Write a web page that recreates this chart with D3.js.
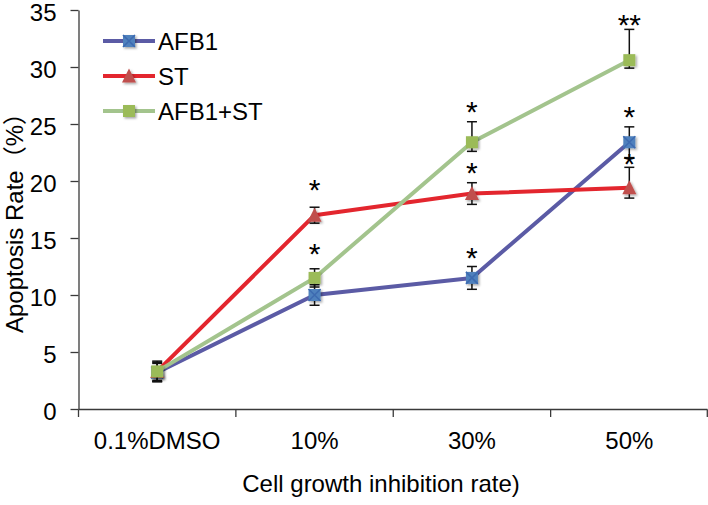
<!DOCTYPE html>
<html>
<head>
<meta charset="utf-8">
<script src="https://cdn.jsdelivr.net/npm/d3@7"></script>
<style>
  html, body { margin: 0; padding: 0; background: #fff; }
  svg { display: block; font-family: "Liberation Sans", Arial, "Noto Sans CJK SC", sans-serif; }
</style>
</head>
<body>
<script>
// ---- data ----
const categories = ["0.1%DMSO", "10%", "30%", "50%"];
const seriesNames = ["AFB1", "ST", "AFB1+ST"];
const afb1Values = [3.2, 10.0, 11.5, 23.4];
const afb1ErrUp = [0.8, 0.9, 1.0, 1.35];
const afb1ErrDown = [0.8, 0.9, 1.0, 1.35];
const stValues = [3.3, 17.0, 18.9, 19.4];
const stErrUp = [0.8, 0.7, 0.95, 1.8];
const stErrDown = [0.8, 0.7, 0.95, 0.9];
const comboValues = [3.3, 11.5, 23.4, 30.6];
const comboErrUp = [0.9, 0.8, 1.8, 2.7];
const comboErrDown = [0.9, 0.8, 0.8, 0.7];
const yTicks = [0, 5, 10, 15, 20, 25, 30, 35];
// significance marks: series index, category index, label, y position (data units)
const starSeries = [1, 2, 2, 1, 0, 2, 0, 1];
const starCats = [1, 1, 2, 2, 2, 3, 3, 3];
const starLabels = ["*", "*", "*", "*", "*", "**", "*", "*"];
const starAt = [19.8, 14.2, 26.7, 21.3, 13.9, 34.3, 26.2, 22.1];
const xTitle = "Cell growth inhibition rate)";
const yTitle = "Apoptosis Rate（%）";

// ---- styles ----
const W = 708, H = 505;
const lineColors = ["#5B5BA5", "#E3262E", "#A3C48D"];
const markerFills = ["#4F81BD", "#C0504D", "#9BBB59"];

const series = [
  { name: seriesNames[0], values: afb1Values, up: afb1ErrUp, down: afb1ErrDown, shape: "xsquare" },
  { name: seriesNames[1], values: stValues, up: stErrUp, down: stErrDown, shape: "triangle" },
  { name: seriesNames[2], values: comboValues, up: comboErrUp, down: comboErrDown, shape: "square" }
];

const svg = d3.select("body").append("svg").attr("width", W).attr("height", H);

const defs = svg.append("defs");
const f = defs.append("filter").attr("id", "sh").attr("x", "-50%").attr("y", "-50%").attr("width", "200%").attr("height", "200%");
f.append("feDropShadow").attr("dx", 1.5).attr("dy", 1.5).attr("stdDeviation", 1.2)
  .attr("flood-color", "#000").attr("flood-opacity", 0.35);

const x = d3.scaleBand().domain(categories).range([78.5, 708]).paddingInner(0).paddingOuter(0);
const cx = c => x(c) + x.bandwidth() / 2;
const y = d3.scaleLinear().domain([0, 35]).range([409, 10]);

// Y axis
const yAxis = svg.append("g").attr("transform", "translate(78.5,0)")
  .call(d3.axisLeft(y).tickValues(yTicks).tickSize(8).tickPadding(14).tickSizeOuter(0));
yAxis.select(".domain").attr("stroke", "#3a3a3a").attr("stroke-width", 1.3);
yAxis.selectAll(".tick line").attr("stroke", "#3a3a3a").attr("stroke-width", 1.3);
yAxis.selectAll(".tick text").attr("font-size", 24).attr("fill", "#000")
  .attr("font-family", "Liberation Sans, Arial, sans-serif").attr("dy", "0.43em");

// X axis line + boundary ticks
const xg = svg.append("g");
xg.append("line").attr("x1", 78.5).attr("x2", 707.5).attr("y1", 409.5).attr("y2", 409.5)
  .attr("stroke", "#3a3a3a").attr("stroke-width", 1.3);
const bounds = categories.map(c => x(c)).concat([x(categories[categories.length - 1]) + x.bandwidth()]);
xg.selectAll("line.t").data(bounds).enter().append("line").attr("class", "t")
  .attr("x1", d => Math.min(d, 707.3)).attr("x2", d => Math.min(d, 707.3))
  .attr("y1", 409.5).attr("y2", 417).attr("stroke", "#3a3a3a").attr("stroke-width", 1.3);
xg.selectAll("text").data(categories).enter().append("text")
  .attr("x", d => cx(d)).attr("y", 449).attr("text-anchor", "middle")
  .attr("font-size", 24).attr("fill", "#000").text(d => d);

// Axis titles
svg.append("text").attr("x", 381).attr("y", 492).attr("text-anchor", "middle")
  .attr("font-size", 24).attr("fill", "#000").text(xTitle);
svg.append("text").attr("transform", "translate(23,217) rotate(-90)").attr("text-anchor", "middle")
  .attr("font-size", 24).attr("fill", "#000").text(yTitle);

// marker drawer
function drawMarker(g, shape, px, py, i) {
  const s = 12;
  if (shape === "square") {
    g.append("rect").attr("x", px - s / 2).attr("y", py - s / 2).attr("width", s).attr("height", s)
      .attr("fill", markerFills[i]).attr("filter", "url(#sh)");
  } else if (shape === "xsquare") {
    const m = g.append("g").attr("filter", "url(#sh)");
    m.append("rect").attr("x", px - s / 2).attr("y", py - s / 2).attr("width", s).attr("height", s)
      .attr("fill", markerFills[i]);
    m.append("path").attr("d", `M${px - s / 2},${py - s / 2}L${px + s / 2},${py + s / 2}M${px + s / 2},${py - s / 2}L${px - s / 2},${py + s / 2}`)
      .attr("stroke", "#3E6BB0").attr("stroke-width", 1.6);
  } else {
    const h = 13;
    g.append("path").attr("d", `M${px},${py - h / 2 - 1}L${px + 7},${py + h / 2}L${px - 7},${py + h / 2}Z`)
      .attr("fill", markerFills[i]).attr("filter", "url(#sh)");
  }
}

const line = d3.line().x((d, j) => cx(categories[j])).y(d => y(d));

series.forEach((s, i) => {
  const g = svg.append("g");
  g.append("path").datum(s.values).attr("d", line).attr("fill", "none")
    .attr("stroke", lineColors[i]).attr("stroke-width", 4).attr("stroke-linejoin", "round");
  // error bars
  s.values.forEach((v, j) => {
    const px = cx(categories[j]);
    const yt = y(v + s.up[j]), yb = y(v - s.down[j]);
    const eb = g.append("g").attr("stroke", "#111").attr("stroke-width", 1.5);
    eb.append("line").attr("x1", px).attr("x2", px).attr("y1", yt).attr("y2", yb);
    eb.append("line").attr("x1", px - 5).attr("x2", px + 5).attr("y1", yt).attr("y2", yt);
    eb.append("line").attr("x1", px - 5).attr("x2", px + 5).attr("y1", yb).attr("y2", yb);
  });
  s.values.forEach((v, j) => drawMarker(g, s.shape, cx(categories[j]), y(v), i));
});

// significance stars
svg.append("g").selectAll("text").data(starLabels).enter().append("text")
  .attr("x", (d, k) => cx(categories[starCats[k]]))
  .attr("y", (d, k) => y(starAt[k]) + 17)
  .attr("text-anchor", "middle").attr("font-size", 30).attr("fill", "#000")
  .text(d => d);

// legend
const legY = [41, 76, 111];
const leg = svg.append("g");
series.forEach((s, i) => {
  leg.append("line").attr("x1", 103).attr("x2", 155).attr("y1", legY[i]).attr("y2", legY[i])
    .attr("stroke", lineColors[i]).attr("stroke-width", 4);
  drawMarker(leg, s.shape, 129, legY[i], i);
  leg.append("text").attr("x", 158).attr("y", legY[i] + 9).attr("font-size", 24).attr("fill", "#000").text(s.name);
});
</script>
</body>
</html>
